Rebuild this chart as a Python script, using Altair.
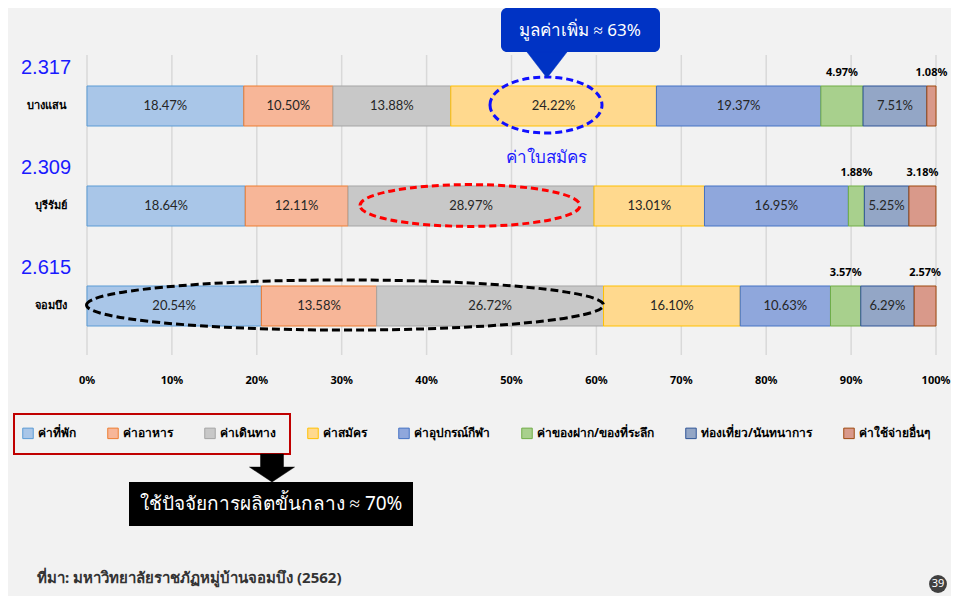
import altair as alt
import pandas as pd

# ---------------- data ----------------
sites = ["บางแสน", "บุรีรัมย์", "จอมบึง"]
site_scores = ["2.317", "2.309", "2.615"]
categories = ["ค่าที่พัก", "ค่าอาหาร", "ค่าเดินทาง", "ค่าสมัคร", "ค่าอุปกรณ์กีฬา",
              "ค่าของฝาก/ของที่ระลึก", "ท่องเที่ยว/นันทนาการ", "ค่าใช้จ่ายอื่นๆ"]
bangsaen = [18.47, 10.50, 13.88, 24.22, 19.37, 4.97, 7.51, 1.08]
buriram = [18.64, 12.11, 28.97, 13.01, 16.95, 1.88, 5.25, 3.18]
chombueng = [20.54, 13.58, 26.72, 16.10, 10.63, 3.57, 6.29, 2.57]
outside_label_cats = ["ค่าของฝาก/ของที่ระลึก", "ค่าใช้จ่ายอื่นๆ"]
ticks = [0, 10, 20, 30, 40, 50, 60, 70, 80, 90, 100]
tick_labels = [f"{t}%" for t in ticks]

fills = ["#a9c6e8", "#f7b698", "#c8c8c8", "#ffd98e", "#8fa7dc", "#a8d08d", "#93a6c6", "#d9998a"]
strokes = ["#5b9bd5", "#ed7d31", "#a5a5a5", "#ffc000", "#4472c4", "#70ad47", "#2f5597", "#9e480e"]

FONT = "Noto Sans"
NUMFONT = "Lato"

rows = []
for r, (site, vals) in enumerate(zip(sites, [bangsaen, buriram, chombueng])):
    for k, (cat, v) in enumerate(zip(categories, vals)):
        rows.append({"site": site, "row": r, "cat": cat, "k": k, "value": v,
                     "label": f"{v:.2f}%", "outside": cat in outside_label_cats})
df = pd.DataFrame(rows)
site_df = pd.DataFrame({"site": sites, "score": site_scores, "row": list(range(len(sites)))})
tick_df = pd.DataFrame({"tick": ticks, "label": tick_labels})

xscale = alt.Scale(domain=[0, 100], range=[79, 928], nice=False, zero=False, padding=0)
yscale = alt.Scale(domain=[0, 2], range=[98, 298], nice=False, zero=False, padding=0)

legend = alt.Legend(orient="none", legendX=14, legendY=419, direction="horizontal", title=None,
                    symbolType="square", symbolSize=110, symbolStrokeWidth=1,
                    labelFont=FONT, labelFontSize=12, labelFontWeight="bold", labelColor="black",
                    labelOffset=4, columnPadding=29)

base = alt.Chart(df).transform_stack(
    stack="value", groupby=["site"], as_=["x0", "x1"], sort=[alt.SortField("k", "ascending")]
).transform_calculate(mid="(datum.x0 + datum.x1) / 2")

grid = alt.Chart(tick_df).mark_rule(color="#d9d9d9", strokeWidth=1.5).encode(
    x=alt.X("tick:Q", scale=xscale, axis=None), y=alt.value(47), y2=alt.value(347))

tick_text = alt.Chart(tick_df).mark_text(font=FONT, fontSize=11, fontWeight="bold", color="black").encode(
    x=alt.X("tick:Q", scale=xscale, axis=None), y=alt.value(373), text="label:N")

bars = base.mark_bar(size=40, strokeWidth=1).encode(
    x=alt.X("x0:Q", scale=xscale, axis=None), x2="x1:Q",
    y=alt.Y("row:Q", scale=yscale, axis=None),
    fill=alt.Fill("cat:N", scale=alt.Scale(domain=categories, range=fills), legend=legend),
    stroke=alt.Stroke("cat:N", scale=alt.Scale(domain=categories, range=strokes), legend=legend),
)

inside = base.transform_filter("!datum.outside").mark_text(
    font=NUMFONT, fontSize=13, color="#262626").encode(
    x=alt.X("mid:Q", scale=xscale, axis=None), y=alt.Y("row:Q", scale=yscale, axis=None), text="label:N")

above = base.transform_filter("datum.outside").mark_text(
    font=FONT, fontSize=11, fontWeight="bold", color="black", dy=-33).encode(
    x=alt.X("mid:Q", scale=xscale, axis=None), y=alt.Y("row:Q", scale=yscale, axis=None), text="label:N")

site_lbl = alt.Chart(site_df).mark_text(font=FONT, fontSize=11, fontWeight="bold", color="black",
                                        align="right").encode(
    x=alt.value(59), y=alt.Y("row:Q", scale=yscale, axis=None), text="site:N")

score_lbl = alt.Chart(site_df).mark_text(font="Liberation Sans", fontSize=20, color="#1a1aff",
                                         align="left", dy=-38).encode(
    x=alt.value(13), y=alt.Y("row:Q", scale=yscale, axis=None), text="score:N")


def ellipse(ratio):
    k = 0.5523
    r = ratio
    return (f"M -1 0 C -1 {-k*r:.4f} {-k:.4f} {-r:.4f} 0 {-r:.4f} "
            f"C {k:.4f} {-r:.4f} 1 {-k*r:.4f} 1 0 "
            f"C 1 {k*r:.4f} {k:.4f} {r:.4f} 0 {r:.4f} "
            f"C {-k:.4f} {r:.4f} -1 {k*r:.4f} -1 0 Z")


one = pd.DataFrame({"a": [0]})


def shape_mark(path, cx, cy, width, **kw):
    return alt.Chart(one).mark_point(shape=path, size=width * width, **kw).encode(
        x=alt.value(cx), y=alt.value(cy))


blue_ell = shape_mark(ellipse(0.5), 538, 97, 112, filled=False, stroke="#1010ff", strokeWidth=3,
                      strokeDash=[7, 4], opacity=1)
red_ell = shape_mark(ellipse(0.19), 462, 197.5, 220, filled=False, stroke="#ff0000", strokeWidth=3,
                     strokeDash=[7, 4], opacity=1)
black_ell = shape_mark(ellipse(0.097), 337, 297, 517, filled=False, stroke="#000000", strokeWidth=3,
                       strokeDash=[8, 4], opacity=1)

callout_box = alt.Chart(one).mark_rect(fill="#0033c4", cornerRadius=6).encode(
    x=alt.value(493), x2=alt.value(652), y=alt.value(0), y2=alt.value(44))
callout_tri = shape_mark("M -1 -0.65 L 1 -0.65 L 0 0.65 Z", 539, 57, 40, filled=True,
                         fill="#0033c4", stroke="#0033c4", strokeWidth=0.5, opacity=1)
callout_txt = alt.Chart(one).mark_text(text="มูลค่าเพิ่ม ≈ 63%", font=FONT, fontSize=17,
                                       color="white").encode(x=alt.value(572), y=alt.value(23))
app_txt = alt.Chart(one).mark_text(text="ค่าใบสมัคร", font=FONT, fontSize=17,
                                   color="#1a1aff").encode(x=alt.value(538), y=alt.value(150))

red_rect = alt.Chart(one).mark_rect(fill=None, stroke="#c00000", strokeWidth=2).encode(
    x=alt.value(6), x2=alt.value(282), y=alt.value(406), y2=alt.value(446))
arrow = shape_mark("M -0.51 -0.62 L 0.51 -0.62 L 0.51 -0.04 L 1 -0.04 L 0 0.62 L -1 -0.04 L -0.51 -0.04 Z",
                   264, 460, 45, filled=True, fill="black", stroke="black", strokeWidth=0.5, opacity=1)
black_box = alt.Chart(one).mark_rect(fill="black").encode(
    x=alt.value(121), x2=alt.value(405), y=alt.value(474), y2=alt.value(518))
black_txt = alt.Chart(one).mark_text(text="ใช้ปัจจัยการผลิตขั้นกลาง ≈ 70%", font=FONT, fontSize=19,
                                     color="white").encode(x=alt.value(263), y=alt.value(496))

source_txt = alt.Chart(one).mark_text(text="ที่มา: มหาวิทยาลัยราชภัฏหมู่บ้านจอมบึง (2562)", font=FONT,
                                      fontSize=15, fontWeight="bold", color="#333333",
                                      align="left").encode(x=alt.value(29), y=alt.value(570))
page_circle = alt.Chart(one).mark_point(shape="circle", size=320, filled=True, fill="#404040",
                                        opacity=1, strokeWidth=0).encode(x=alt.value(930), y=alt.value(576))
page_txt = alt.Chart(one).mark_text(text="39", font=FONT, fontSize=11, color="white").encode(
    x=alt.value(930), y=alt.value(576))

chart = alt.layer(
    grid, tick_text, bars, inside, above, site_lbl, score_lbl,
    blue_ell, red_ell, black_ell, callout_box, callout_tri, callout_txt, app_txt,
    red_rect, arrow, black_box, black_txt, source_txt, page_circle, page_txt
).properties(
    width=943, height=588, background="#f2f2f2", padding=0,
    autosize=alt.AutoSizeParams(type="none")
).configure_view(stroke=None)

chart.save("out.html", embed_options={"renderer": "svg", "actions": False})
